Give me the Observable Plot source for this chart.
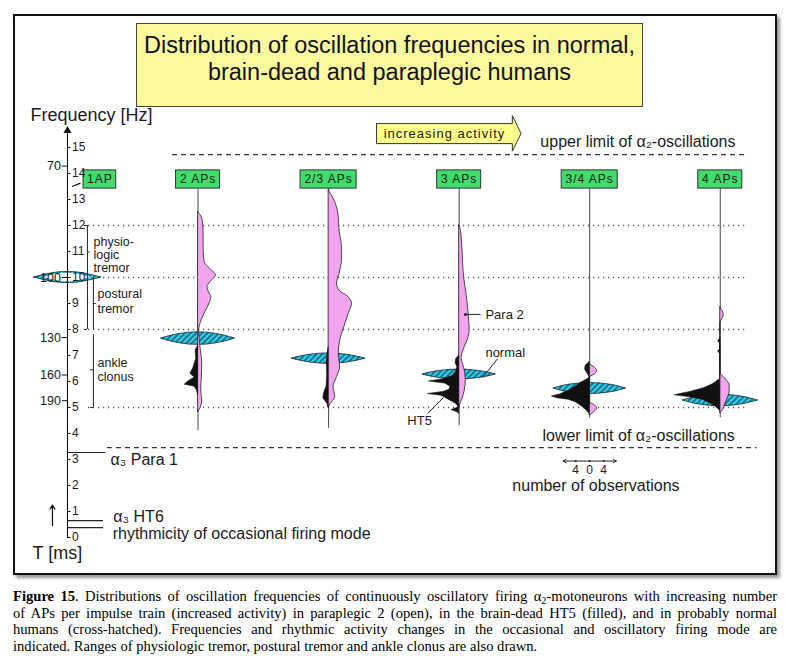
<!DOCTYPE html>
<html><head><meta charset="utf-8">
<script src="https://cdn.jsdelivr.net/npm/d3@7"></script>
<script src="https://cdn.jsdelivr.net/npm/@observablehq/plot@0.6"></script>
<style>
body{margin:0;width:787px;height:670px;overflow:hidden;background:#fff;font-family:"Liberation Sans",Arial,sans-serif;position:relative}
#frame{position:absolute;left:13px;top:14px;width:760px;height:557px;border:2px solid #111;box-shadow:3px 3px 3px #999;pointer-events:none;z-index:3}
#title{position:absolute;left:136px;top:23px;width:507px;height:84px;background:#fdf99e;border:1.5px solid #444;box-sizing:border-box;text-align:center;font-size:23.5px;line-height:27px;padding-top:8px;color:#111;z-index:2}
#chart{position:absolute;left:0;top:98px;z-index:1}
#caption{position:absolute;left:13px;top:588px;width:764px;font-family:"Liberation Serif","Times New Roman",serif;font-size:14.6px;line-height:16.6px;color:#000}
#caption div{text-align:justify;text-align-last:justify;white-space:nowrap}
#caption div.last{text-align-last:left}
#caption sub{font-size:0.7em;line-height:0;vertical-align:-0.25em}
</style></head><body>
<div id="title">Distribution of oscillation frequencies in normal,<br>brain-dead and paraplegic humans</div>
<div id="chart"></div>
<div id="frame"></div>
<div id="caption">
<div><b>Figure 15</b>. Distributions of oscillation frequencies of continuously oscillatory firing α<sub>2</sub>-motoneurons with increasing number</div>
<div>of APs per impulse train (increased activity) in paraplegic 2 (open), in the brain-dead HT5 (filled), and in probably normal</div>
<div>humans (cross-hatched). Frequencies and rhythmic activity changes in the occasional and oscillatory firing mode are</div>
<div class="last">indicated. Ranges of physiologic tremor, postural tremor and ankle clonus are also drawn.</div>
</div>
<script>
// ---------- data (frequency in Hz, width in number of observations) ----------
const columns = ["1AP", "2 APs", "2/3 APs", "3 APs", "3/4 APs", "4 APs"];
const hzTicks = [0,1,2,3,4,5,6,7,8,9,10,11,12,13,14,15];
const msTicks = [70, 100, 130, 160, 190];
const rangeLines = [12, 10, 8, 5];
const obsScaleTicks = [-4, 0, 4];
const obsScaleLabels = ["4", "0", "4"];

// Para 2 (open, pink) — right side of each column
const para2_2APs = [[12.51,0],[12.38,0.8],[12.13,1.4],[11.55,1.6],[11.04,1.6],[10.59,1.9],[10.35,3.3],[10.08,5.1],[9.82,3.5],[9.63,2.7],[9.43,3.1],[9.24,3.8],[9.0,3.3],[8.62,1.9],[8.23,0.7],[7.96,0.3],[7.31,0.7],[6.69,1.2],[6.15,1.1],[5.65,0.9],[5.27,1.2],[5.0,0.8],[4.81,0]];
const para2_23APs = [[13.35,0],[13.09,1.2],[12.7,2.4],[12.32,2.9],[11.81,3.1],[11.17,3.8],[10.65,3.8],[10.14,3.1],[9.76,2.4],[9.5,3.1],[9.24,5.7],[8.99,6.7],[8.6,5.7],[8.09,4.5],[7.58,3.3],[7.07,2.9],[6.55,3.3],[6.17,2.4],[5.78,1.4],[5.4,1.9],[5.08,0.3],[4.96,0]];
const para2_3APs = [[12.0,0],[11.8,0.5],[11.04,0.95],[10.01,1.4],[9.37,2.1],[8.6,2.7],[7.96,3.0],[7.58,2.4],[7.19,1.2],[6.88,0.7],[6.54,1.4],[6.04,1.9],[5.65,1.6],[5.35,1.0],[5.08,0.2],[4.98,0]];
const para2_34APs = [[6.66,0],[6.55,1.3],[6.4,2.1],[6.27,1.4],[6.15,0],[5.2,0],[5.1,1.3],[4.96,2.1],[4.82,1.3],[4.69,0]];
const para2_4APs = [[8.85,0],[8.54,1.0],[8.23,0],[6.35,0],[6.1,1.5],[5.85,2.7],[5.65,2.7],[5.38,2.2],[5.15,1.5],[4.96,1.0],[4.77,0]];

// HT5 (filled, black) — left side of each column
const ht5_2APs = [[7.38,0],[7.19,0.7],[6.88,0.5],[6.5,1.4],[6.3,2.2],[6.15,0.95],[5.98,3.0],[5.88,3.8],[5.8,1.0],[5.65,0.3],[5.46,0]];
const ht5_23APs = [[7.3,0],[7.0,0.4],[6.6,0.5],[6.2,0.4],[5.8,0.6],[5.55,1.3],[5.35,1.5],[5.15,0.4],[5.0,0]];
const ht5_3APs = [[7.0,0],[6.85,0.9],[6.7,1.0],[6.55,0.5],[6.35,1.0],[6.2,2.0],[6.08,5],[6.0,8.6],[5.92,4],[5.8,2.5],[5.68,2.8],[5.6,4.5],[5.52,8.9],[5.45,5],[5.3,3],[5.15,1],[5.05,0.3],[4.98,0.5],[4.9,2.2],[4.82,0.5],[4.75,0]];
const ht5_34APs = [[6.75,0],[6.6,1.2],[6.45,1.3],[6.3,0.6],[6.17,0],[6.1,0.5],[5.95,2.5],[5.8,4],[5.65,6],[5.5,8.5],[5.42,10.8],[5.35,9],[5.3,6],[5.2,4],[5.05,2.3],[4.9,1],[4.8,0.3],[4.75,0]];
const ht5_4APs = [[7.65,0],[7.55,0.6],[7.45,0],[7.25,0],[7.15,0.6],[7.05,0],[6.1,0],[5.9,2],[5.75,4.5],[5.6,8.5],[5.53,11],[5.47,13],[5.4,9],[5.3,5],[5.18,3.2],[5.05,1.5],[4.9,0.3],[4.85,0]];

// probably normal humans (cross-hatched) — symmetric about each column
const normal_1AP = [[10.21,0],[10.2,2.5],[10.16,4.5],[10.1,6.7],[10.05,8.2],[10.0,9.7],[9.95,8.2],[9.9,6.7],[9.84,4.5],[9.8,2.5],[9.79,0]];
const normal_2APs = [[7.89,0],[7.88,2.5],[7.83,5.2],[7.77,7.4],[7.71,9.1],[7.65,10.6],[7.59,9.1],[7.53,7.4],[7.47,5.2],[7.42,2.5],[7.41,0]];
const normal_23APs = [[7.08,0],[7.07,2.5],[7.03,5.2],[6.98,7.4],[6.93,9.1],[6.88,10.6],[6.83,9.1],[6.78,7.4],[6.73,5.2],[6.69,2.5],[6.68,0]];
const normal_3APs = [[6.46,0],[6.45,2.5],[6.41,5.2],[6.37,7.4],[6.32,9.1],[6.27,10.5],[6.22,9.1],[6.17,7.4],[6.13,5.2],[6.09,2.5],[6.08,0]];
const normal_34APs = [[5.94,0],[5.93,2.5],[5.89,5.2],[5.84,7.4],[5.78,9.1],[5.73,10.4],[5.68,9.1],[5.62,7.4],[5.57,5.2],[5.53,2.5],[5.52,0]];
const normal_4APs = [[5.49,0],[5.48,2.5],[5.44,5.2],[5.39,7.4],[5.33,9.1],[5.27,10.8],[5.21,9.1],[5.15,7.4],[5.1,5.2],[5.06,2.5],[5.05,0]];

const lineBottoms = [null, 4.1, 4.2, 4.3, 4.6, 4.6];

// ---------- layout ----------
const pxPerObs = 3.5, axisPx = 67, W = 787, H = 474;
const colStep = 37.3;              // column spacing in observation units
const cx = i => i * colStep;
const ap1LabelX = 9.25;
const labelX = i => i === 0 ? ap1LabelX : cx(i);
const boxY1 = 13.42, boxY2 = 14.12;

const para2Series = [null, para2_2APs, para2_23APs, para2_3APs, para2_34APs, para2_4APs];
const ht5Series = [null, ht5_2APs, ht5_23APs, ht5_3APs, ht5_34APs, ht5_4APs];
const normalSeries = [normal_1AP, normal_2APs, normal_23APs, normal_3APs, normal_34APs, normal_4APs];
const rows = series => series.flatMap((arr, i) => arr ? arr.map(([f, w]) => ({col: i, f, w})) : []);
const lensInset = 2.8;

const ctx = document.createElement("canvas").getContext("2d");
ctx.font = "12px 'Liberation Sans'";
const halfBox = d => (ctx.measureText(d).width + d.length * 1 + 7) / pxPerObs / 2;

const txt = "#1a1a1a";
const T = (text, x, y, o = {}) => Plot.text([text], {x: () => x, y: () => y, text: d => d, fill: txt, fontSize: 13, textAnchor: "start", ...o});

const plot = Plot.plot({
  width: W, height: H, margin: 0,
  x: {domain: [-axisPx / pxPerObs, (W - axisPx) / pxPerObs], axis: null},
  y: {domain: [-1.346, 16.885], axis: null},
  style: {background: "transparent", fontFamily: "'Liberation Sans', Arial, sans-serif"},
  marks: [
    // range lines (dotted)
    Plot.ruleY(rangeLines, {x1: 6, x2: 194.3, stroke: "#555", strokeWidth: 1.3, strokeDasharray: "1.2,3.8"}),
    // limits of alpha2 oscillations (dashed)
    Plot.ruleY([14.73], {x1: 30, x2: 194.6, stroke: "#333", strokeWidth: 1.2, strokeDasharray: "5,4"}),
    Plot.ruleY([3.46], {x1: 11.4, x2: 197, stroke: "#333", strokeWidth: 1.2, strokeDasharray: "5,4"}),
    // column lines
    Plot.ruleX(columns.slice(1), {x: (d, i) => cx(i + 1), y1: (d, i) => lineBottoms[i + 1], y2: boxY1, stroke: "#333", strokeWidth: 0.9}),
    // normal (cross-hatched)
    Plot.areaX(rows(normalSeries), {y: "f", x1: d => cx(d.col) - d.w, x2: d => cx(d.col) + d.w, z: "col", fill: "url(#hatch)", stroke: "#0d2233", strokeWidth: 0.8, curve: "linear"}),
    Plot.areaX(rows([normal_1AP]).filter(d => d.w > lensInset), {y: "f", x1: d => -(d.w - lensInset), x2: d => d.w - lensInset, fill: "white", curve: "linear"}),
    // paraplegic 2 (open)
    Plot.areaX(rows(para2Series), {y: "f", x1: d => cx(d.col), x2: d => cx(d.col) + d.w, z: "col", fill: "#f2a4ee", stroke: "#222", strokeWidth: 0.8, curve: "monotone-y"}),
    // brain-dead HT5 (filled)
    Plot.areaX(rows(ht5Series), {y: "f", x1: d => cx(d.col) - d.w, x2: d => cx(d.col), z: "col", fill: "#111", stroke: "#111", strokeWidth: 0.6, curve: "linear"}),
    // label boxes
    Plot.rect(columns, {x1: (d, i) => labelX(i) - halfBox(d), x2: (d, i) => labelX(i) + halfBox(d), y1: boxY1, y2: boxY2, fill: "#40dc6c", stroke: "#333", strokeWidth: 1}),
    Plot.text(columns, {x: (d, i) => labelX(i), y: (boxY1 + boxY2) / 2, text: d => d, fontSize: 12, fill: txt}),
    // frequency axis
    Plot.ruleX([0], {y1: 0, y2: 15.6, stroke: "#111", strokeWidth: 1.1}),
    Plot.dot([0], {x: 0, y: 15.65, symbol: "triangle", r: 3, fill: "#111", stroke: null}),
    Plot.ruleY(hzTicks, {y: d => d, x1: 0, x2: 1, stroke: "#111"}),
    Plot.text(hzTicks, {x: 1.3, y: d => d, text: d => String(d), fontSize: 12, textAnchor: "start", fill: txt}),
    Plot.ruleY(msTicks, {y: d => 1000 / d, x1: -1.5, x2: 0, stroke: "#111"}),
    Plot.text(msTicks, {x: -1.9, y: d => 1000 / d, text: d => String(d), fontSize: 12.5, textAnchor: "end", fill: txt}),
    T("Frequency [Hz]", -10.6, 16.23, {fontSize: 18}),
    T("T [ms]", -10, -0.62, {fontSize: 18}),
    // 1AP mark
    Plot.link([0], {x1: 1.34, y1: 13.5, x2: 3.7, y2: 13.63, stroke: "#111", strokeWidth: 1.2}),
    // tremor / clonus ranges
    Plot.ruleX([5.7], {y1: 8, y2: 12, stroke: "#222"}),
    Plot.ruleX([7.4], {y1: 8, y2: 10, stroke: "#222"}),
    Plot.ruleX([7.4], {y1: 5, y2: 7.8, stroke: "#222"}),
    Plot.ruleY([12, 8], {x1: 4.8, x2: 5.7, stroke: "#222"}),
    Plot.ruleY([10.98], {x1: 5.7, x2: 6.5, stroke: "#222"}),
    Plot.ruleY([9.0], {x1: 7.4, x2: 8.2, stroke: "#222"}),
    Plot.ruleY([6.45], {x1: 6.6, x2: 7.4, stroke: "#222"}),
    Plot.ruleY([5], {x1: 6.6, x2: 7.4, stroke: "#222"}),
    T("physio-", 7.43, 11.37, {fontSize: 12.5}), T("logic", 7.43, 10.86, {fontSize: 12.5}), T("tremor", 7.43, 10.35, {fontSize: 12.5}),
    T("postural", 8.57, 9.35, {fontSize: 12.5}), T("tremor", 8.57, 8.77, {fontSize: 12.5}),
    T("ankle", 8.57, 6.73, {fontSize: 12.5}), T("clonus", 8.57, 6.19, {fontSize: 12.5}),
    // alpha3 levels and occasional firing
    Plot.ruleY([3.27], {x1: 0, x2: 10.9, stroke: "#222", strokeWidth: 1.1}),
    Plot.ruleY([0.65, 0.38], {x1: 0, x2: 10.3, stroke: "#222", strokeWidth: 1.1}),
    T("α₃ Para 1", 12.3, 2.98, {fontSize: 16}),
    T("α₃ HT6", 13.1, 0.81, {fontSize: 16}),
    T("rhythmicity of occasional firing mode", 12.9, 0.15, {fontSize: 16}),
    Plot.arrow([0], {x1: -4.3, y1: 0.46, x2: -4.3, y2: 1.25, stroke: "#111", headLength: 6, strokeWidth: 1.2}),
    // limits
    T("upper limit of α₂-oscillations", 135.1, 15.2, {fontSize: 16}),
    T("lower limit of α₂-oscillations", 135.7, 3.92, {fontSize: 16}),
    // increasing activity arrow
    Plot.line([[88.3,15.92],[127.1,15.92],[127.1,16.23],[129.6,15.54],[127.1,14.86],[127.1,15.15],[88.3,15.15],[88.3,15.92]], {x: d => d[0], y: d => d[1], fill: "#ffff8c", stroke: "#333", strokeWidth: 1, curve: "linear"}),
    T("increasing activity", 107.7, 15.54, {fontSize: 13, textAnchor: "middle"}),
    // observation scale
    Plot.arrow([-1, 1], {x1: cx(4), y1: 2.94, x2: d => cx(4) + d * 7.6, y2: 2.94, stroke: "#222", headLength: 5, strokeWidth: 1}),
    Plot.dot(obsScaleTicks, {x: d => cx(4) + d, y: 2.94, r: 1, fill: "#222"}),
    Plot.text(obsScaleTicks, {x: d => cx(4) + d, y: 2.6, text: (d, i) => obsScaleLabels[i], fontSize: 12, fill: txt}),
    T("number of observations", 127.1, 2.0, {fontSize: 16}),
    // series annotations
    Plot.link([0], {x1: 113.7, y1: 8.58, x2: 118, y2: 8.58, stroke: "#222"}),
    Plot.dot([0], {x: 113.7, y: 8.58, r: 1.5, fill: "#222"}),
    T("Para 2", 119.4, 8.58),
    Plot.link([0], {x1: 122.9, y1: 6.88, x2: 118.6, y2: 6.15, stroke: "#222"}),
    T("normal", 119.4, 7.12),
    Plot.link([0], {x1: 102.9, y1: 4.77, x2: 107.4, y2: 5.38, stroke: "#222"}),
    T("HT5", 97.1, 4.5)
  ]
});

// cross-hatch pattern
const svg = d3.select(plot);
const defs = svg.insert("defs", ":first-child");
const pat = defs.append("pattern").attr("id", "hatch").attr("patternUnits", "userSpaceOnUse")
  .attr("width", 4).attr("height", 4).attr("patternTransform", "rotate(45)");
pat.append("rect").attr("width", 4).attr("height", 4).attr("fill", "#2fd2e2");
pat.append("line").attr("x1", 1).attr("y1", 0).attr("x2", 1).attr("y2", 4).attr("stroke", "#17406e").attr("stroke-width", 1.3);
svg.selectAll("text").filter(function() { return columns.includes(this.textContent) || this.textContent === "increasing activity"; })
  .attr("letter-spacing", "1px");
document.getElementById("chart").appendChild(plot);
</script>
</body></html>
